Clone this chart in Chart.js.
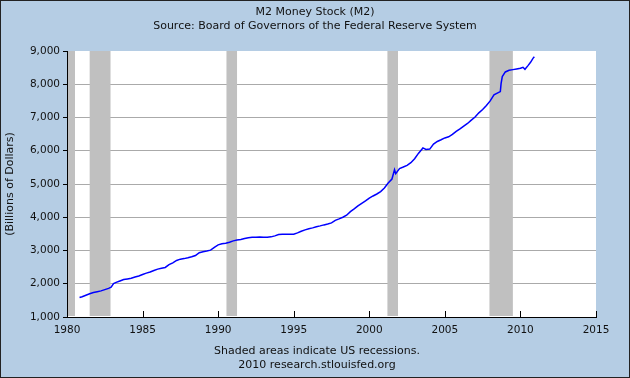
<!DOCTYPE html>
<html>
<head>
<meta charset="utf-8">
<title>M2 Money Stock (M2)</title>
<script src="https://cdn.jsdelivr.net/npm/chart.js@4.4.0/dist/chart.umd.min.js"></script>
<style>
    html, body { margin: 0; padding: 0; background: #b5cde4; }
    #wrap { width: 630px; height: 378px; position: relative; }
</style>
</head>
<body>
<div id="wrap"><canvas id="m2Chart" width="630" height="378"></canvas></div>
<script>
// M2, billions of dollars (decimal years)
const dates = [
    1980.83, 1981.0, 1981.25, 1981.5, 1981.75, 1982.0, 1982.25, 1982.5, 1982.75, 1982.92,
    1983.08, 1983.25, 1983.5, 1983.75, 1984.0, 1984.25, 1984.5, 1984.75,
    1985.0, 1985.25, 1985.5, 1985.75, 1986.0, 1986.25, 1986.5, 1986.75,
    1987.0, 1987.25, 1987.5, 1987.75, 1988.0, 1988.25, 1988.5, 1988.75,
    1989.0, 1989.25, 1989.5, 1989.75, 1990.0, 1990.25, 1990.5, 1990.75,
    1991.0, 1991.25, 1991.5, 1991.75, 1992.0, 1992.25, 1992.5, 1992.75,
    1993.0, 1993.25, 1993.5, 1993.75, 1994.0, 1994.25, 1994.5, 1994.75,
    1995.0, 1995.25, 1995.5, 1995.75, 1996.0, 1996.25, 1996.5, 1996.75,
    1997.0, 1997.25, 1997.5, 1997.75, 1998.0, 1998.25, 1998.5, 1998.75,
    1999.0, 1999.25, 1999.5, 1999.75, 2000.0, 2000.25, 2000.5, 2000.75,
    2001.0, 2001.25, 2001.5, 2001.67, 2001.75, 2002.0, 2002.25, 2002.5, 2002.75,
    2003.0, 2003.25, 2003.55, 2003.75, 2004.0, 2004.25, 2004.5, 2004.75,
    2005.0, 2005.25, 2005.5, 2005.75, 2006.0, 2006.25, 2006.5, 2006.75,
    2007.0, 2007.25, 2007.5, 2007.75, 2008.0, 2008.25, 2008.5, 2008.67, 2008.72, 2008.8,
    2009.0, 2009.25, 2009.5, 2009.75, 2010.0, 2010.17, 2010.3, 2010.5, 2010.67, 2010.83, 2010.92
];
const m2 = [
    1584, 1610, 1655, 1700, 1735, 1760, 1785, 1824, 1860, 1895,
    2005, 2040, 2083, 2125, 2145, 2165, 2203, 2233,
    2280, 2320, 2354, 2400, 2440, 2465, 2490, 2575,
    2630, 2700, 2740, 2756, 2780, 2810, 2850, 2935,
    2965, 2985, 3010, 3095, 3170, 3200, 3220, 3250,
    3290, 3315, 3330, 3360, 3385, 3395, 3400, 3406,
    3400, 3395, 3410, 3440, 3478, 3485, 3488, 3488,
    3492, 3530, 3580, 3620, 3655, 3680, 3715, 3740,
    3770, 3795, 3830, 3905, 3950, 4000, 4060, 4170,
    4250, 4340, 4420, 4490, 4575, 4640, 4700, 4770,
    4880, 5030, 5150, 5430, 5310, 5464, 5510, 5560, 5640,
    5760, 5920, 6085, 6040, 6050, 6200, 6280, 6330,
    6386, 6420, 6490, 6580, 6655, 6740, 6820, 6920,
    7016, 7140, 7240, 7360, 7500, 7680, 7740, 7780, 8020, 8230,
    8370, 8420, 8440, 8460, 8480, 8510, 8450, 8560, 8660, 8780, 8830
];

// US recessions (start, end) in decimal years
const recessionStart = [1980.0, 1981.5, 1990.55, 2001.2, 2007.95];
const recessionEnd = [1980.53, 1982.88, 1991.25, 2001.9, 2009.5];

const xTicks = [1980, 1985, 1990, 1995, 2000, 2005, 2010, 2015];
const yTicks = [1000, 2000, 3000, 4000, 5000, 6000, 7000, 8000, 9000];

const titleText = 'M2 Money Stock (M2)';
const subtitleText = 'Source: Board of Governors of the Federal Reserve System';
const footText = ['Shaded areas indicate US recessions.', '2010 research.stlouisfed.org'];

const textColor = '#111';
const fontFamily = '"DejaVu Sans", Verdana, sans-serif';

// background, white plot, recession bars, inner x ticks, texts
const fredDecor = {
    id: 'fredDecor',
    beforeDraw(chart) {
        const { ctx, chartArea: a } = chart;
        ctx.save();
        ctx.fillStyle = '#b5cde4';
        ctx.fillRect(0, 0, chart.width, chart.height);
        ctx.fillStyle = '#ffffff';
        ctx.fillRect(a.left, a.top, a.right - a.left, a.bottom - a.top);
        ctx.restore();
    },
    beforeDatasetsDraw(chart) {
        const { ctx, chartArea: a, scales: { x } } = chart;
        ctx.save();
        ctx.fillStyle = '#c0c0c0';
        recessionStart.forEach((s, i) => {
            const x0 = Math.max(x.getPixelForValue(s), a.left + 1);
            const x1 = x.getPixelForValue(recessionEnd[i]);
            ctx.fillRect(x0, a.top, x1 - x0, a.bottom - a.top - 1);
        });
        // x ticks point up into the plot
        ctx.strokeStyle = '#000';
        ctx.lineWidth = 1;
        xTicks.slice(1).forEach(v => {
            const px = Math.round(x.getPixelForValue(v)) + 0.5;
            ctx.beginPath();
            ctx.moveTo(px, a.bottom);
            ctx.lineTo(px, a.bottom - 6);
            ctx.stroke();
        });
        ctx.restore();
    },
    afterDraw(chart) {
        const { ctx } = chart;
        ctx.save();
        ctx.fillStyle = textColor;
        ctx.textAlign = 'center';
        ctx.textBaseline = 'middle';
        ctx.font = '11px ' + fontFamily;
        ctx.fillText(titleText, 315, 12);
        ctx.fillText(subtitleText, 315, 26);
        ctx.fillText(footText[0], 317, 351);
        ctx.fillText(footText[1], 317, 365);
        // dark frame round the picture
        ctx.strokeStyle = '#222';
        ctx.lineWidth = 1;
        ctx.strokeRect(0.5, 0.5, chart.width - 1, chart.height - 1);
        ctx.restore();
    }
};

const ctx = document.getElementById('m2Chart').getContext('2d');
new Chart(ctx, {
    type: 'line',
    data: {
        datasets: [{
            label: 'M2',
            data: dates.map((d, i) => ({ x: d, y: m2[i] })),
            borderColor: '#0000ff',
            borderWidth: 1.5,
            pointRadius: 0,
            tension: 0,
            fill: false
        }]
    },
    options: {
        responsive: false,
        animation: false,
        events: [],
        layout: { padding: { top: 51, right: 34, bottom: 0, left: 0 } },
        plugins: {
            legend: { display: false },
            tooltip: { enabled: false }
        },
        scales: {
            x: {
                type: 'linear',
                min: 1980,
                max: 2015,
                afterBuildTicks: axis => { axis.ticks = xTicks.map(v => ({ value: v })); },
                afterFit: axis => { axis.height = 61; },
                grid: { display: true, drawOnChartArea: false, drawTicks: false },
                border: { color: '#000', width: 1 },
                ticks: {
                    padding: 7,
                    color: textColor,
                    font: { family: fontFamily, size: 10.5 },
                    maxRotation: 0,
                    callback: v => String(v)
                }
            },
            y: {
                min: 1000,
                max: 9000,
                afterBuildTicks: axis => { axis.ticks = yTicks.map(v => ({ value: v })); },
                afterFit: axis => { axis.width = 67; },
                grid: {
                    color: c => (c.tick && c.tick.value === 9000) ? 'rgba(0,0,0,0)' : '#aaaaaa',
                    tickColor: '#000',
                    tickLength: 4
                },
                border: { color: '#000', width: 1 },
                title: {
                    display: true,
                    text: '(Billions of Dollars)',
                    color: textColor,
                    font: { family: fontFamily, size: 11 },
                    padding: { top: 4, bottom: 0 }
                },
                ticks: {
                    padding: 3,
                    color: textColor,
                    font: { family: fontFamily, size: 10.5 },
                    callback: v => v.toLocaleString('en-US')
                }
            }
        }
    },
    plugins: [fredDecor]
});
</script>
</body>
</html>
